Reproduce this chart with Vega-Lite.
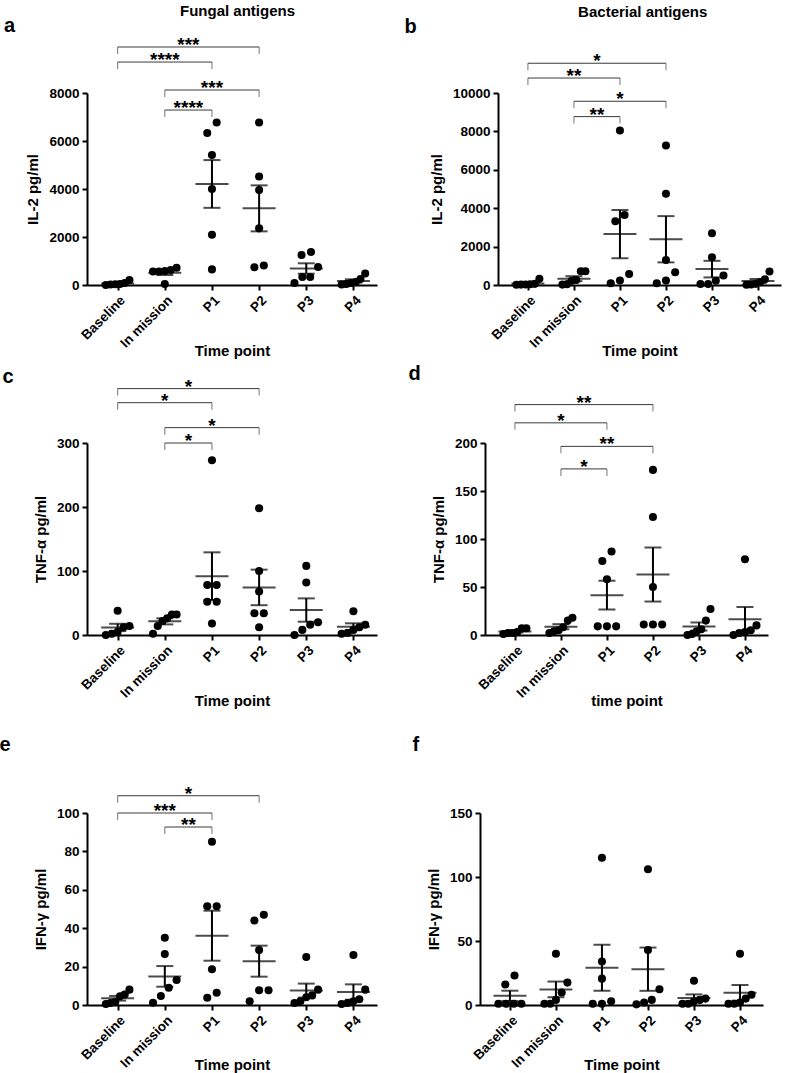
{
"$schema": "https://vega.github.io/schema/vega-lite/v6.json",
"background": "white",
"padding": {"left": -1, "top": 3, "right": 5, "bottom": 1},
"datasets": {
"pts": [
{"p":"a","t":"Baseline","v":0},{"p":"a","t":"Baseline","v":20},{"p":"a","t":"Baseline","v":30},{"p":"a","t":"Baseline","v":40},{"p":"a","t":"Baseline","v":80},{"p":"a","t":"Baseline","v":210},
{"p":"a","t":"In mission","v":40},{"p":"a","t":"In mission","v":560},{"p":"a","t":"In mission","v":560},{"p":"a","t":"In mission","v":580},{"p":"a","t":"In mission","v":620},{"p":"a","t":"In mission","v":720},
{"p":"a","t":"P1","v":650},{"p":"a","t":"P1","v":2090},{"p":"a","t":"P1","v":4000},{"p":"a","t":"P1","v":5420},{"p":"a","t":"P1","v":6330},{"p":"a","t":"P1","v":6770},
{"p":"a","t":"P2","v":740},{"p":"a","t":"P2","v":810},{"p":"a","t":"P2","v":2360},{"p":"a","t":"P2","v":3960},{"p":"a","t":"P2","v":4520},{"p":"a","t":"P2","v":6770},
{"p":"a","t":"P3","v":83},{"p":"a","t":"P3","v":333},{"p":"a","t":"P3","v":333},{"p":"a","t":"P3","v":750},{"p":"a","t":"P3","v":1250},{"p":"a","t":"P3","v":1375},
{"p":"a","t":"P4","v":20},{"p":"a","t":"P4","v":40},{"p":"a","t":"P4","v":80},{"p":"a","t":"P4","v":120},{"p":"a","t":"P4","v":250},{"p":"a","t":"P4","v":480},
{"p":"b","t":"Baseline","v":10},{"p":"b","t":"Baseline","v":20},{"p":"b","t":"Baseline","v":30},{"p":"b","t":"Baseline","v":40},{"p":"b","t":"Baseline","v":60},{"p":"b","t":"Baseline","v":320},
{"p":"b","t":"In mission","v":20},{"p":"b","t":"In mission","v":40},{"p":"b","t":"In mission","v":220},{"p":"b","t":"In mission","v":260},{"p":"b","t":"In mission","v":720},{"p":"b","t":"In mission","v":720},
{"p":"b","t":"P1","v":90},{"p":"b","t":"P1","v":230},{"p":"b","t":"P1","v":570},{"p":"b","t":"P1","v":3320},{"p":"b","t":"P1","v":3650},{"p":"b","t":"P1","v":8050},
{"p":"b","t":"P2","v":90},{"p":"b","t":"P2","v":230},{"p":"b","t":"P2","v":660},{"p":"b","t":"P2","v":1300},{"p":"b","t":"P2","v":4750},{"p":"b","t":"P2","v":7270},
{"p":"b","t":"P3","v":50},{"p":"b","t":"P3","v":50},{"p":"b","t":"P3","v":225},{"p":"b","t":"P3","v":490},{"p":"b","t":"P3","v":1450},{"p":"b","t":"P3","v":2700},
{"p":"b","t":"P4","v":10},{"p":"b","t":"P4","v":30},{"p":"b","t":"P4","v":60},{"p":"b","t":"P4","v":150},{"p":"b","t":"P4","v":300},{"p":"b","t":"P4","v":700},
{"p":"c","t":"Baseline","v":0},{"p":"c","t":"Baseline","v":2},{"p":"c","t":"Baseline","v":5},{"p":"c","t":"Baseline","v":12},{"p":"c","t":"Baseline","v":14},{"p":"c","t":"Baseline","v":38},
{"p":"c","t":"In mission","v":2},{"p":"c","t":"In mission","v":14},{"p":"c","t":"In mission","v":22},{"p":"c","t":"In mission","v":26},{"p":"c","t":"In mission","v":32},{"p":"c","t":"In mission","v":32},
{"p":"c","t":"P1","v":18},{"p":"c","t":"P1","v":52},{"p":"c","t":"P1","v":52},{"p":"c","t":"P1","v":78},{"p":"c","t":"P1","v":78},{"p":"c","t":"P1","v":273},
{"p":"c","t":"P2","v":12},{"p":"c","t":"P2","v":34},{"p":"c","t":"P2","v":34},{"p":"c","t":"P2","v":68},{"p":"c","t":"P2","v":100},{"p":"c","t":"P2","v":198},
{"p":"c","t":"P3","v":0},{"p":"c","t":"P3","v":8},{"p":"c","t":"P3","v":16},{"p":"c","t":"P3","v":20},{"p":"c","t":"P3","v":82},{"p":"c","t":"P3","v":108},
{"p":"c","t":"P4","v":2},{"p":"c","t":"P4","v":3},{"p":"c","t":"P4","v":8},{"p":"c","t":"P4","v":12},{"p":"c","t":"P4","v":16},{"p":"c","t":"P4","v":37},
{"p":"d","t":"Baseline","v":1},{"p":"d","t":"Baseline","v":2},{"p":"d","t":"Baseline","v":2},{"p":"d","t":"Baseline","v":3},{"p":"d","t":"Baseline","v":7},{"p":"d","t":"Baseline","v":7},
{"p":"d","t":"In mission","v":2},{"p":"d","t":"In mission","v":4},{"p":"d","t":"In mission","v":5},{"p":"d","t":"In mission","v":8},{"p":"d","t":"In mission","v":15},{"p":"d","t":"In mission","v":18},
{"p":"d","t":"P1","v":9},{"p":"d","t":"P1","v":9},{"p":"d","t":"P1","v":9},{"p":"d","t":"P1","v":58},{"p":"d","t":"P1","v":77},{"p":"d","t":"P1","v":87},
{"p":"d","t":"P2","v":11},{"p":"d","t":"P2","v":11},{"p":"d","t":"P2","v":11},{"p":"d","t":"P2","v":50},{"p":"d","t":"P2","v":123},{"p":"d","t":"P2","v":172},
{"p":"d","t":"P3","v":0},{"p":"d","t":"P3","v":1},{"p":"d","t":"P3","v":4},{"p":"d","t":"P3","v":6},{"p":"d","t":"P3","v":15},{"p":"d","t":"P3","v":27},
{"p":"d","t":"P4","v":0},{"p":"d","t":"P4","v":2},{"p":"d","t":"P4","v":3},{"p":"d","t":"P4","v":5},{"p":"d","t":"P4","v":10},{"p":"d","t":"P4","v":79},
{"p":"e","t":"Baseline","v":0.5},{"p":"e","t":"Baseline","v":1},{"p":"e","t":"Baseline","v":1.5},{"p":"e","t":"Baseline","v":4.5},{"p":"e","t":"Baseline","v":5.5},{"p":"e","t":"Baseline","v":8},
{"p":"e","t":"In mission","v":1.2},{"p":"e","t":"In mission","v":4.7},{"p":"e","t":"In mission","v":9},{"p":"e","t":"In mission","v":13},{"p":"e","t":"In mission","v":26.5},{"p":"e","t":"In mission","v":35},
{"p":"e","t":"P1","v":3.8},{"p":"e","t":"P1","v":6.4},{"p":"e","t":"P1","v":18.6},{"p":"e","t":"P1","v":51.4},{"p":"e","t":"P1","v":51.4},{"p":"e","t":"P1","v":85},
{"p":"e","t":"P2","v":2},{"p":"e","t":"P2","v":7.7},{"p":"e","t":"P2","v":7.7},{"p":"e","t":"P2","v":28.6},{"p":"e","t":"P2","v":44},{"p":"e","t":"P2","v":47},
{"p":"e","t":"P3","v":1},{"p":"e","t":"P3","v":2},{"p":"e","t":"P3","v":4},{"p":"e","t":"P3","v":5},{"p":"e","t":"P3","v":8},{"p":"e","t":"P3","v":25},
{"p":"e","t":"P4","v":0.5},{"p":"e","t":"P4","v":1},{"p":"e","t":"P4","v":2},{"p":"e","t":"P4","v":3},{"p":"e","t":"P4","v":8},{"p":"e","t":"P4","v":26},
{"p":"f","t":"Baseline","v":1},{"p":"f","t":"Baseline","v":1},{"p":"f","t":"Baseline","v":1},{"p":"f","t":"Baseline","v":1},{"p":"f","t":"Baseline","v":16},{"p":"f","t":"Baseline","v":23},
{"p":"f","t":"In mission","v":1},{"p":"f","t":"In mission","v":1},{"p":"f","t":"In mission","v":4},{"p":"f","t":"In mission","v":9.7},{"p":"f","t":"In mission","v":17.5},{"p":"f","t":"In mission","v":40},
{"p":"f","t":"P1","v":1},{"p":"f","t":"P1","v":1},{"p":"f","t":"P1","v":3},{"p":"f","t":"P1","v":20.6},{"p":"f","t":"P1","v":34},{"p":"f","t":"P1","v":115},
{"p":"f","t":"P2","v":0.5},{"p":"f","t":"P2","v":2},{"p":"f","t":"P2","v":4},{"p":"f","t":"P2","v":12.3},{"p":"f","t":"P2","v":43},{"p":"f","t":"P2","v":106},
{"p":"f","t":"P3","v":1},{"p":"f","t":"P3","v":1},{"p":"f","t":"P3","v":3},{"p":"f","t":"P3","v":4},{"p":"f","t":"P3","v":5},{"p":"f","t":"P3","v":19},
{"p":"f","t":"P4","v":1},{"p":"f","t":"P4","v":1},{"p":"f","t":"P4","v":2},{"p":"f","t":"P4","v":5},{"p":"f","t":"P4","v":8},{"p":"f","t":"P4","v":40}
],
"brk": [
{"p":"a","from":"Baseline","to":"P2","level":9917,"label":"***"},
{"p":"a","from":"Baseline","to":"P1","level":9290,"label":"****"},
{"p":"a","from":"In mission","to":"P2","level":8125,"label":"***"},
{"p":"a","from":"In mission","to":"P1","level":7290,"label":"****"},
{"p":"b","from":"Baseline","to":"P2","level":11550,"label":"*"},
{"p":"b","from":"Baseline","to":"P1","level":10780,"label":"**"},
{"p":"b","from":"In mission","to":"P2","level":9570,"label":"*"},
{"p":"b","from":"In mission","to":"P1","level":8770,"label":"**"},
{"p":"c","from":"Baseline","to":"P2","level":385,"label":"*"},
{"p":"c","from":"Baseline","to":"P1","level":363,"label":"*"},
{"p":"c","from":"In mission","to":"P2","level":324,"label":"*"},
{"p":"c","from":"In mission","to":"P1","level":300,"label":"*"},
{"p":"d","from":"Baseline","to":"P2","level":240,"label":"**"},
{"p":"d","from":"Baseline","to":"P1","level":221,"label":"*"},
{"p":"d","from":"In mission","to":"P2","level":196.5,"label":"**"},
{"p":"d","from":"In mission","to":"P1","level":173,"label":"*"},
{"p":"e","from":"Baseline","to":"P2","level":109,"label":"*"},
{"p":"e","from":"Baseline","to":"P1","level":100,"label":"***"},
{"p":"e","from":"In mission","to":"P1","level":92.7,"label":"**"}
]
},
"vconcat": [
{"hconcat": [
{"title": {"text": "Fungal antigens", "anchor": "middle", "dx": 47, "offset": -3, "fontSize": 15},
 "vconcat": [
{"width": 290, "height": 192,
 "title": {"text": "a", "anchor": "start", "dx": -22, "offset": 0, "fontSize": 20},
 "layer": [
  {"data": {"name": "pts"},
   "transform": [
     {"filter": "datum.p === 'a'"},
     {"calculate": "indexof(['Baseline','In mission','P1','P2','P3','P4'], datum.t)", "as": "xi"},
     {"window": [{"op": "lag", "field": "v", "as": "pv"}], "groupby": ["t"], "sort": [{"field": "v", "order": "ascending"}]},
     {"calculate": "(datum.pv == null || datum.v - datum.pv > 480) ? 1 : 0", "as": "bk"},
     {"window": [{"op": "sum", "field": "bk", "as": "cl"}], "groupby": ["t"], "sort": [{"field": "v", "order": "ascending"}]},
     {"window": [{"op": "row_number", "as": "r"}, {"op": "count", "as": "n"}], "groupby": ["t", "cl"], "sort": [{"field": "v", "order": "ascending"}], "frame": [null, null]},
     {"calculate": "datum.xi + (datum.r - 1 - (datum.n - 1) / 2) * (datum.n > 1 ? min(0.2, 0.5 / (datum.n - 1)) : 0)", "as": "xp"}
   ],
   "mark": {"type": "circle", "size": 65, "color": "black", "opacity": 1},
   "encoding": {
     "x": {"field": "xp", "type": "quantitative", "scale": {"domain": [-0.65, 5.5], "nice": false, "zero": false}, "axis": {"values": [0,1,2,3,4,5], "tickCount": 10, "labelExpr": "['Baseline','In mission','P1','P2','P3','P4'][datum.value]", "title": "Time point"}},
     "y": {"field": "v", "type": "quantitative", "scale": {"domain": [0, 8000], "nice": false, "zero": false}, "axis": {"values": [0,2000,4000,6000,8000], "tickCount": 10, "format": "d", "title": "IL-2 pg/ml", "labelOverlap": false}}
   }},
  {"data": {"name": "pts"},
   "transform": [
     {"filter": "datum.p === 'a'"},
     {"aggregate": [{"op": "mean", "field": "v", "as": "m"}, {"op": "stderr", "field": "v", "as": "se"}], "groupby": ["t"]},
     {"calculate": "indexof(['Baseline','In mission','P1','P2','P3','P4'], datum.t)", "as": "xi"},
     {"calculate": "datum.m - datum.se", "as": "lo"},
     {"calculate": "datum.m + datum.se", "as": "hi"}
   ],
   "layer": [
     {"mark": {"type": "tick", "orient": "horizontal", "size": 33, "thickness": 2, "color": "black"}, "encoding": {"x": {"field": "xi", "type": "quantitative"}, "y": {"field": "m", "type": "quantitative"}}},
     {"mark": {"type": "rule", "strokeWidth": 2, "color": "black"}, "encoding": {"x": {"field": "xi", "type": "quantitative"}, "y": {"field": "lo", "type": "quantitative"}, "y2": {"field": "hi"}}},
     {"transform": [{"fold": ["lo", "hi"], "as": ["k", "cv"]}], "mark": {"type": "tick", "orient": "horizontal", "size": 17, "thickness": 2, "color": "black"}, "encoding": {"x": {"field": "xi", "type": "quantitative"}, "y": {"field": "cv", "type": "quantitative"}}}
   ]},
  {"data": {"name": "brk"},
   "transform": [
     {"filter": "datum.p === 'a'"},
     {"calculate": "indexof(['Baseline','In mission','P1','P2','P3','P4'], datum.from)", "as": "x1"},
     {"calculate": "indexof(['Baseline','In mission','P1','P2','P3','P4'], datum.to)", "as": "x2"},
     {"calculate": "(datum.x1 + datum.x2) / 2", "as": "xm"}
   ],
   "layer": [
     {"mark": {"type": "rule", "strokeWidth": 1, "color": "#3a3a3a"}, "encoding": {"x": {"field": "x1", "type": "quantitative"}, "x2": {"field": "x2"}, "y": {"field": "level", "type": "quantitative", "scale": {"domain": [0, 8000]}}}},
     {"transform": [{"fold": ["x1", "x2"], "as": ["e", "ex"]}], "mark": {"type": "tick", "orient": "vertical", "size": 7, "thickness": 1, "color": "#3a3a3a", "yOffset": 3.5}, "encoding": {"x": {"field": "ex", "type": "quantitative"}, "y": {"field": "level", "type": "quantitative"}}},
     {"mark": {"type": "text", "fontSize": 19, "fontWeight": "bold", "font": "Liberation Sans", "dy": 4, "baseline": "alphabetic", "align": "center", "color": "black"}, "encoding": {"x": {"field": "xm", "type": "quantitative"}, "y": {"field": "level", "type": "quantitative"}, "text": {"field": "label"}}}
   ]}
 ]}
]},
{"title": {"text": "Bacterial antigens", "anchor": "middle", "dx": 50, "offset": -3, "fontSize": 15},
 "vconcat": [
{"width": 283, "height": 192,
 "title": {"text": "b", "anchor": "start", "dx": -25, "offset": 15, "fontSize": 20},
 "layer": [
  {"data": {"name": "pts"},
   "transform": [
     {"filter": "datum.p === 'b'"},
     {"calculate": "indexof(['Baseline','In mission','P1','P2','P3','P4'], datum.t)", "as": "xi"},
     {"window": [{"op": "lag", "field": "v", "as": "pv"}], "groupby": ["t"], "sort": [{"field": "v", "order": "ascending"}]},
     {"calculate": "(datum.pv == null || datum.v - datum.pv > 600) ? 1 : 0", "as": "bk"},
     {"window": [{"op": "sum", "field": "bk", "as": "cl"}], "groupby": ["t"], "sort": [{"field": "v", "order": "ascending"}]},
     {"window": [{"op": "row_number", "as": "r"}, {"op": "count", "as": "n"}], "groupby": ["t", "cl"], "sort": [{"field": "v", "order": "ascending"}], "frame": [null, null]},
     {"calculate": "datum.xi + (datum.r - 1 - (datum.n - 1) / 2) * (datum.n > 1 ? min(0.2, 0.5 / (datum.n - 1)) : 0)", "as": "xp"}
   ],
   "mark": {"type": "circle", "size": 65, "color": "black", "opacity": 1},
   "encoding": {
     "x": {"field": "xp", "type": "quantitative", "scale": {"domain": [-0.65, 5.5], "nice": false, "zero": false}, "axis": {"values": [0,1,2,3,4,5], "tickCount": 10, "labelExpr": "['Baseline','In mission','P1','P2','P3','P4'][datum.value]", "title": "Time point"}},
     "y": {"field": "v", "type": "quantitative", "scale": {"domain": [0, 10000], "nice": false, "zero": false}, "axis": {"values": [0,2000,4000,6000,8000,10000], "tickCount": 10, "format": "d", "title": "IL-2 pg/ml", "labelOverlap": false}}
   }},
  {"data": {"name": "pts"},
   "transform": [
     {"filter": "datum.p === 'b'"},
     {"aggregate": [{"op": "mean", "field": "v", "as": "m"}, {"op": "stderr", "field": "v", "as": "se"}], "groupby": ["t"]},
     {"calculate": "indexof(['Baseline','In mission','P1','P2','P3','P4'], datum.t)", "as": "xi"},
     {"calculate": "datum.m - datum.se", "as": "lo"},
     {"calculate": "datum.m + datum.se", "as": "hi"}
   ],
   "layer": [
     {"mark": {"type": "tick", "orient": "horizontal", "size": 33, "thickness": 2, "color": "black"}, "encoding": {"x": {"field": "xi", "type": "quantitative"}, "y": {"field": "m", "type": "quantitative"}}},
     {"mark": {"type": "rule", "strokeWidth": 2, "color": "black"}, "encoding": {"x": {"field": "xi", "type": "quantitative"}, "y": {"field": "lo", "type": "quantitative"}, "y2": {"field": "hi"}}},
     {"transform": [{"fold": ["lo", "hi"], "as": ["k", "cv"]}], "mark": {"type": "tick", "orient": "horizontal", "size": 17, "thickness": 2, "color": "black"}, "encoding": {"x": {"field": "xi", "type": "quantitative"}, "y": {"field": "cv", "type": "quantitative"}}}
   ]},
  {"data": {"name": "brk"},
   "transform": [
     {"filter": "datum.p === 'b'"},
     {"calculate": "indexof(['Baseline','In mission','P1','P2','P3','P4'], datum.from)", "as": "x1"},
     {"calculate": "indexof(['Baseline','In mission','P1','P2','P3','P4'], datum.to)", "as": "x2"},
     {"calculate": "(datum.x1 + datum.x2) / 2", "as": "xm"}
   ],
   "layer": [
     {"mark": {"type": "rule", "strokeWidth": 1, "color": "#3a3a3a"}, "encoding": {"x": {"field": "x1", "type": "quantitative"}, "x2": {"field": "x2"}, "y": {"field": "level", "type": "quantitative", "scale": {"domain": [0, 10000]}}}},
     {"transform": [{"fold": ["x1", "x2"], "as": ["e", "ex"]}], "mark": {"type": "tick", "orient": "vertical", "size": 7, "thickness": 1, "color": "#3a3a3a", "yOffset": 3.5}, "encoding": {"x": {"field": "ex", "type": "quantitative"}, "y": {"field": "level", "type": "quantitative"}}},
     {"mark": {"type": "text", "fontSize": 19, "fontWeight": "bold", "font": "Liberation Sans", "dy": 4, "baseline": "alphabetic", "align": "center", "color": "black"}, "encoding": {"x": {"field": "xm", "type": "quantitative"}, "y": {"field": "level", "type": "quantitative"}, "text": {"field": "label"}}}
   ]}
 ]}
]}
], "spacing": 27},
{"vconcat": [
{"hconcat": [
{"width": 290, "height": 192,
 "title": {"text": "c", "anchor": "start", "dx": -31, "offset": -9, "fontSize": 20},
 "layer": [
  {"data": {"name": "pts"},
   "transform": [
     {"filter": "datum.p === 'c'"},
     {"calculate": "indexof(['Baseline','In mission','P1','P2','P3','P4'], datum.t)", "as": "xi"},
     {"window": [{"op": "lag", "field": "v", "as": "pv"}], "groupby": ["t"], "sort": [{"field": "v", "order": "ascending"}]},
     {"calculate": "(datum.pv == null || datum.v - datum.pv > 18) ? 1 : 0", "as": "bk"},
     {"window": [{"op": "sum", "field": "bk", "as": "cl"}], "groupby": ["t"], "sort": [{"field": "v", "order": "ascending"}]},
     {"window": [{"op": "row_number", "as": "r"}, {"op": "count", "as": "n"}], "groupby": ["t", "cl"], "sort": [{"field": "v", "order": "ascending"}], "frame": [null, null]},
     {"calculate": "datum.xi + (datum.r - 1 - (datum.n - 1) / 2) * (datum.n > 1 ? min(0.2, 0.5 / (datum.n - 1)) : 0)", "as": "xp"}
   ],
   "mark": {"type": "circle", "size": 65, "color": "black", "opacity": 1},
   "encoding": {
     "x": {"field": "xp", "type": "quantitative", "scale": {"domain": [-0.65, 5.5], "nice": false, "zero": false}, "axis": {"values": [0,1,2,3,4,5], "tickCount": 10, "labelExpr": "['Baseline','In mission','P1','P2','P3','P4'][datum.value]", "title": "Time point"}},
     "y": {"field": "v", "type": "quantitative", "scale": {"domain": [0, 300], "nice": false, "zero": false}, "axis": {"values": [0,100,200,300], "tickCount": 10, "format": "d", "title": "TNF-α pg/ml", "labelOverlap": false}}
   }},
  {"data": {"name": "pts"},
   "transform": [
     {"filter": "datum.p === 'c'"},
     {"aggregate": [{"op": "mean", "field": "v", "as": "m"}, {"op": "stderr", "field": "v", "as": "se"}], "groupby": ["t"]},
     {"calculate": "indexof(['Baseline','In mission','P1','P2','P3','P4'], datum.t)", "as": "xi"},
     {"calculate": "datum.m - datum.se", "as": "lo"},
     {"calculate": "datum.m + datum.se", "as": "hi"}
   ],
   "layer": [
     {"mark": {"type": "tick", "orient": "horizontal", "size": 33, "thickness": 2, "color": "black"}, "encoding": {"x": {"field": "xi", "type": "quantitative"}, "y": {"field": "m", "type": "quantitative"}}},
     {"mark": {"type": "rule", "strokeWidth": 2, "color": "black"}, "encoding": {"x": {"field": "xi", "type": "quantitative"}, "y": {"field": "lo", "type": "quantitative"}, "y2": {"field": "hi"}}},
     {"transform": [{"fold": ["lo", "hi"], "as": ["k", "cv"]}], "mark": {"type": "tick", "orient": "horizontal", "size": 17, "thickness": 2, "color": "black"}, "encoding": {"x": {"field": "xi", "type": "quantitative"}, "y": {"field": "cv", "type": "quantitative"}}}
   ]},
  {"data": {"name": "brk"},
   "transform": [
     {"filter": "datum.p === 'c'"},
     {"calculate": "indexof(['Baseline','In mission','P1','P2','P3','P4'], datum.from)", "as": "x1"},
     {"calculate": "indexof(['Baseline','In mission','P1','P2','P3','P4'], datum.to)", "as": "x2"},
     {"calculate": "(datum.x1 + datum.x2) / 2", "as": "xm"}
   ],
   "layer": [
     {"mark": {"type": "rule", "strokeWidth": 1, "color": "#3a3a3a"}, "encoding": {"x": {"field": "x1", "type": "quantitative"}, "x2": {"field": "x2"}, "y": {"field": "level", "type": "quantitative", "scale": {"domain": [0, 300]}}}},
     {"transform": [{"fold": ["x1", "x2"], "as": ["e", "ex"]}], "mark": {"type": "tick", "orient": "vertical", "size": 7, "thickness": 1, "color": "#3a3a3a", "yOffset": 3.5}, "encoding": {"x": {"field": "ex", "type": "quantitative"}, "y": {"field": "level", "type": "quantitative"}}},
     {"mark": {"type": "text", "fontSize": 19, "fontWeight": "bold", "font": "Liberation Sans", "dy": 4, "baseline": "alphabetic", "align": "center", "color": "black"}, "encoding": {"x": {"field": "xm", "type": "quantitative"}, "y": {"field": "level", "type": "quantitative"}, "text": {"field": "label"}}}
   ]}
 ]},
{"width": 283, "height": 192,
 "title": {"text": "d", "anchor": "start", "dx": -23, "offset": 10, "fontSize": 20},
 "layer": [
  {"data": {"name": "pts"},
   "transform": [
     {"filter": "datum.p === 'd'"},
     {"calculate": "indexof(['Baseline','In mission','P1','P2','P3','P4'], datum.t)", "as": "xi"},
     {"window": [{"op": "lag", "field": "v", "as": "pv"}], "groupby": ["t"], "sort": [{"field": "v", "order": "ascending"}]},
     {"calculate": "(datum.pv == null || datum.v - datum.pv > 12) ? 1 : 0", "as": "bk"},
     {"window": [{"op": "sum", "field": "bk", "as": "cl"}], "groupby": ["t"], "sort": [{"field": "v", "order": "ascending"}]},
     {"window": [{"op": "row_number", "as": "r"}, {"op": "count", "as": "n"}], "groupby": ["t", "cl"], "sort": [{"field": "v", "order": "ascending"}], "frame": [null, null]},
     {"calculate": "datum.xi + (datum.r - 1 - (datum.n - 1) / 2) * (datum.n > 1 ? min(0.2, 0.5 / (datum.n - 1)) : 0)", "as": "xp"}
   ],
   "mark": {"type": "circle", "size": 65, "color": "black", "opacity": 1},
   "encoding": {
     "x": {"field": "xp", "type": "quantitative", "scale": {"domain": [-0.65, 5.5], "nice": false, "zero": false}, "axis": {"values": [0,1,2,3,4,5], "tickCount": 10, "labelExpr": "['Baseline','In mission','P1','P2','P3','P4'][datum.value]", "title": "time point"}},
     "y": {"field": "v", "type": "quantitative", "scale": {"domain": [0, 200], "nice": false, "zero": false}, "axis": {"values": [0,50,100,150,200], "tickCount": 10, "format": "d", "title": "TNF-α pg/ml", "labelOverlap": false}}
   }},
  {"data": {"name": "pts"},
   "transform": [
     {"filter": "datum.p === 'd'"},
     {"aggregate": [{"op": "mean", "field": "v", "as": "m"}, {"op": "stderr", "field": "v", "as": "se"}], "groupby": ["t"]},
     {"calculate": "indexof(['Baseline','In mission','P1','P2','P3','P4'], datum.t)", "as": "xi"},
     {"calculate": "datum.m - datum.se", "as": "lo"},
     {"calculate": "datum.m + datum.se", "as": "hi"}
   ],
   "layer": [
     {"mark": {"type": "tick", "orient": "horizontal", "size": 33, "thickness": 2, "color": "black"}, "encoding": {"x": {"field": "xi", "type": "quantitative"}, "y": {"field": "m", "type": "quantitative"}}},
     {"mark": {"type": "rule", "strokeWidth": 2, "color": "black"}, "encoding": {"x": {"field": "xi", "type": "quantitative"}, "y": {"field": "lo", "type": "quantitative"}, "y2": {"field": "hi"}}},
     {"transform": [{"fold": ["lo", "hi"], "as": ["k", "cv"]}], "mark": {"type": "tick", "orient": "horizontal", "size": 17, "thickness": 2, "color": "black"}, "encoding": {"x": {"field": "xi", "type": "quantitative"}, "y": {"field": "cv", "type": "quantitative"}}}
   ]},
  {"data": {"name": "brk"},
   "transform": [
     {"filter": "datum.p === 'd'"},
     {"calculate": "indexof(['Baseline','In mission','P1','P2','P3','P4'], datum.from)", "as": "x1"},
     {"calculate": "indexof(['Baseline','In mission','P1','P2','P3','P4'], datum.to)", "as": "x2"},
     {"calculate": "(datum.x1 + datum.x2) / 2", "as": "xm"}
   ],
   "layer": [
     {"mark": {"type": "rule", "strokeWidth": 1, "color": "#3a3a3a"}, "encoding": {"x": {"field": "x1", "type": "quantitative"}, "x2": {"field": "x2"}, "y": {"field": "level", "type": "quantitative", "scale": {"domain": [0, 200]}}}},
     {"transform": [{"fold": ["x1", "x2"], "as": ["e", "ex"]}], "mark": {"type": "tick", "orient": "vertical", "size": 7, "thickness": 1, "color": "#3a3a3a", "yOffset": 3.5}, "encoding": {"x": {"field": "ex", "type": "quantitative"}, "y": {"field": "level", "type": "quantitative"}}},
     {"mark": {"type": "text", "fontSize": 19, "fontWeight": "bold", "font": "Liberation Sans", "dy": 4, "baseline": "alphabetic", "align": "center", "color": "black"}, "encoding": {"x": {"field": "xm", "type": "quantitative"}, "y": {"field": "level", "type": "quantitative"}, "text": {"field": "label"}}}
   ]}
 ]}
], "spacing": 31},
{"hconcat": [
{"width": 290, "height": 192,
 "title": {"text": "e", "anchor": "start", "dx": -34, "offset": 30, "fontSize": 20},
 "layer": [
  {"data": {"name": "pts"},
   "transform": [
     {"filter": "datum.p === 'e'"},
     {"calculate": "indexof(['Baseline','In mission','P1','P2','P3','P4'], datum.t)", "as": "xi"},
     {"window": [{"op": "lag", "field": "v", "as": "pv"}], "groupby": ["t"], "sort": [{"field": "v", "order": "ascending"}]},
     {"calculate": "(datum.pv == null || datum.v - datum.pv > 6) ? 1 : 0", "as": "bk"},
     {"window": [{"op": "sum", "field": "bk", "as": "cl"}], "groupby": ["t"], "sort": [{"field": "v", "order": "ascending"}]},
     {"window": [{"op": "row_number", "as": "r"}, {"op": "count", "as": "n"}], "groupby": ["t", "cl"], "sort": [{"field": "v", "order": "ascending"}], "frame": [null, null]},
     {"calculate": "datum.xi + (datum.r - 1 - (datum.n - 1) / 2) * (datum.n > 1 ? min(0.2, 0.5 / (datum.n - 1)) : 0)", "as": "xp"}
   ],
   "mark": {"type": "circle", "size": 65, "color": "black", "opacity": 1},
   "encoding": {
     "x": {"field": "xp", "type": "quantitative", "scale": {"domain": [-0.65, 5.5], "nice": false, "zero": false}, "axis": {"values": [0,1,2,3,4,5], "tickCount": 10, "labelExpr": "['Baseline','In mission','P1','P2','P3','P4'][datum.value]", "title": "Time point", "titlePadding": -12}},
     "y": {"field": "v", "type": "quantitative", "scale": {"domain": [0, 100], "nice": false, "zero": false}, "axis": {"values": [0,20,40,60,80,100], "tickCount": 10, "format": "d", "title": "IFN-γ pg/ml", "labelOverlap": false}}
   }},
  {"data": {"name": "pts"},
   "transform": [
     {"filter": "datum.p === 'e'"},
     {"aggregate": [{"op": "mean", "field": "v", "as": "m"}, {"op": "stderr", "field": "v", "as": "se"}], "groupby": ["t"]},
     {"calculate": "indexof(['Baseline','In mission','P1','P2','P3','P4'], datum.t)", "as": "xi"},
     {"calculate": "datum.m - datum.se", "as": "lo"},
     {"calculate": "datum.m + datum.se", "as": "hi"}
   ],
   "layer": [
     {"mark": {"type": "tick", "orient": "horizontal", "size": 33, "thickness": 2, "color": "black"}, "encoding": {"x": {"field": "xi", "type": "quantitative"}, "y": {"field": "m", "type": "quantitative"}}},
     {"mark": {"type": "rule", "strokeWidth": 2, "color": "black"}, "encoding": {"x": {"field": "xi", "type": "quantitative"}, "y": {"field": "lo", "type": "quantitative"}, "y2": {"field": "hi"}}},
     {"transform": [{"fold": ["lo", "hi"], "as": ["k", "cv"]}], "mark": {"type": "tick", "orient": "horizontal", "size": 17, "thickness": 2, "color": "black"}, "encoding": {"x": {"field": "xi", "type": "quantitative"}, "y": {"field": "cv", "type": "quantitative"}}}
   ]},
  {"data": {"name": "brk"},
   "transform": [
     {"filter": "datum.p === 'e'"},
     {"calculate": "indexof(['Baseline','In mission','P1','P2','P3','P4'], datum.from)", "as": "x1"},
     {"calculate": "indexof(['Baseline','In mission','P1','P2','P3','P4'], datum.to)", "as": "x2"},
     {"calculate": "(datum.x1 + datum.x2) / 2", "as": "xm"}
   ],
   "layer": [
     {"mark": {"type": "rule", "strokeWidth": 1, "color": "#3a3a3a"}, "encoding": {"x": {"field": "x1", "type": "quantitative"}, "x2": {"field": "x2"}, "y": {"field": "level", "type": "quantitative", "scale": {"domain": [0, 100]}}}},
     {"transform": [{"fold": ["x1", "x2"], "as": ["e", "ex"]}], "mark": {"type": "tick", "orient": "vertical", "size": 7, "thickness": 1, "color": "#3a3a3a", "yOffset": 3.5}, "encoding": {"x": {"field": "ex", "type": "quantitative"}, "y": {"field": "level", "type": "quantitative"}}},
     {"mark": {"type": "text", "fontSize": 19, "fontWeight": "bold", "font": "Liberation Sans", "dy": 4, "baseline": "alphabetic", "align": "center", "color": "black"}, "encoding": {"x": {"field": "xm", "type": "quantitative"}, "y": {"field": "level", "type": "quantitative"}, "text": {"field": "label"}}}
   ]}
 ]},
{"width": 283, "height": 192,
 "title": {"text": "f", "anchor": "start", "dx": -14, "offset": 51, "fontSize": 20},
 "layer": [
  {"data": {"name": "pts"},
   "transform": [
     {"filter": "datum.p === 'f'"},
     {"calculate": "indexof(['Baseline','In mission','P1','P2','P3','P4'], datum.t)", "as": "xi"},
     {"window": [{"op": "lag", "field": "v", "as": "pv"}], "groupby": ["t"], "sort": [{"field": "v", "order": "ascending"}]},
     {"calculate": "(datum.pv == null || datum.v - datum.pv > 9) ? 1 : 0", "as": "bk"},
     {"window": [{"op": "sum", "field": "bk", "as": "cl"}], "groupby": ["t"], "sort": [{"field": "v", "order": "ascending"}]},
     {"window": [{"op": "row_number", "as": "r"}, {"op": "count", "as": "n"}], "groupby": ["t", "cl"], "sort": [{"field": "v", "order": "ascending"}], "frame": [null, null]},
     {"calculate": "datum.xi + (datum.r - 1 - (datum.n - 1) / 2) * (datum.n > 1 ? min(0.2, 0.5 / (datum.n - 1)) : 0)", "as": "xp"}
   ],
   "mark": {"type": "circle", "size": 65, "color": "black", "opacity": 1},
   "encoding": {
     "x": {"field": "xp", "type": "quantitative", "scale": {"domain": [-0.65, 5.5], "nice": false, "zero": false}, "axis": {"values": [0,1,2,3,4,5], "tickCount": 10, "labelExpr": "['Baseline','In mission','P1','P2','P3','P4'][datum.value]", "title": "Time point", "titlePadding": -12}},
     "y": {"field": "v", "type": "quantitative", "scale": {"domain": [0, 150], "nice": false, "zero": false}, "axis": {"values": [0,50,100,150], "tickCount": 10, "format": "d", "title": "IFN-γ pg/ml", "labelOverlap": false}}
   }},
  {"data": {"name": "pts"},
   "transform": [
     {"filter": "datum.p === 'f'"},
     {"aggregate": [{"op": "mean", "field": "v", "as": "m"}, {"op": "stderr", "field": "v", "as": "se"}], "groupby": ["t"]},
     {"calculate": "indexof(['Baseline','In mission','P1','P2','P3','P4'], datum.t)", "as": "xi"},
     {"calculate": "datum.m - datum.se", "as": "lo"},
     {"calculate": "datum.m + datum.se", "as": "hi"}
   ],
   "layer": [
     {"mark": {"type": "tick", "orient": "horizontal", "size": 33, "thickness": 2, "color": "black"}, "encoding": {"x": {"field": "xi", "type": "quantitative"}, "y": {"field": "m", "type": "quantitative"}}},
     {"mark": {"type": "rule", "strokeWidth": 2, "color": "black"}, "encoding": {"x": {"field": "xi", "type": "quantitative"}, "y": {"field": "lo", "type": "quantitative"}, "y2": {"field": "hi"}}},
     {"transform": [{"fold": ["lo", "hi"], "as": ["k", "cv"]}], "mark": {"type": "tick", "orient": "horizontal", "size": 17, "thickness": 2, "color": "black"}, "encoding": {"x": {"field": "xi", "type": "quantitative"}, "y": {"field": "cv", "type": "quantitative"}}}
   ]}
 ]}
], "spacing": 35}
], "spacing": 25}
],
"spacing": 4,
"config": {
  "view": {"stroke": null},
  "font": "Liberation Sans",
  "axis": {"domainColor": "black", "domainWidth": 2, "tickColor": "black", "tickWidth": 2, "tickSize": 5, "labelFont": "Liberation Sans", "labelFontSize": 13.5, "labelFontWeight": "bold", "labelColor": "black", "titleFont": "Liberation Sans", "titleFontSize": 15, "titleFontWeight": "bold", "titleColor": "black", "grid": false, "labelPadding": 3, "labelFlush": false, "labelOverlap": false},
  "axisX": {"labelAngle": -45, "titlePadding": -6},
  "axisY": {"titlePadding": 8},
  "title": {"font": "Liberation Sans", "fontWeight": "bold", "color": "black"}
}
}
